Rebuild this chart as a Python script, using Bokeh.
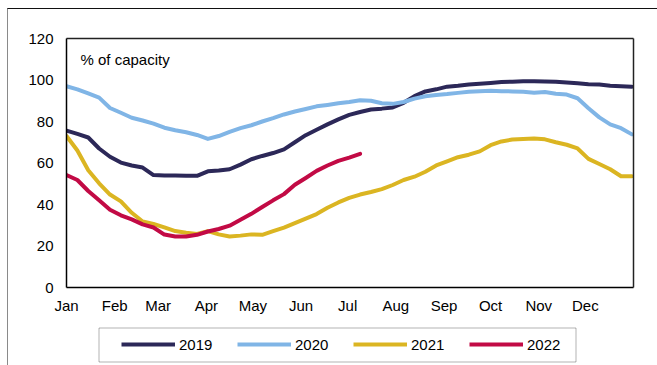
from bokeh.plotting import figure
from bokeh.layouts import column
from bokeh.models import (FixedTicker, Legend, LegendItem, Label, Range1d, LinearAxis,
                          InlineStyleSheet, BoxAnnotation)
from bokeh.embed import file_html
from bokeh.resources import INLINE

# ---- data (weekly points, day-of-year) ----
week_days = [7 * i for i in range(53)]

s2019 = [75.6, 74.0, 72.3, 67.0, 63.0, 60.2, 58.8, 57.8, 54.2, 54.0, 54.0, 53.8, 53.8,
         56.0, 56.4, 57.0, 59.2, 61.8, 63.4, 64.8, 66.6, 70.0, 73.4, 76.0, 78.6, 81.0,
         83.2, 84.6, 85.8, 86.2, 86.8, 89.0, 92.2, 94.5, 95.5, 96.8, 97.2, 97.8, 98.2,
         98.6, 99.0, 99.2, 99.4, 99.4, 99.3, 99.2, 98.8, 98.4, 98.0, 97.8, 97.2, 97.0, 96.8]
s2020 = [97.0, 95.5, 93.5, 91.5, 86.5, 84.2, 81.8, 80.5, 79.0, 77.0, 75.8, 74.8, 73.5,
         71.6, 73.0, 75.0, 76.8, 78.2, 80.0, 81.6, 83.4, 84.8, 86.0, 87.3, 88.0, 88.8,
         89.4, 90.2, 90.0, 88.8, 88.5, 89.4, 91.0, 92.2, 92.8, 93.2, 93.8, 94.3, 94.6,
         94.8, 94.6, 94.5, 94.3, 93.9, 94.2, 93.4, 93.0, 91.2, 86.4, 82.0, 78.6, 76.8, 73.8]
s2021 = [73.0, 66.0, 56.5, 50.2, 44.8, 41.5, 36.0, 31.8, 30.6, 29.0, 27.2, 26.4, 25.8,
         27.2, 25.6, 24.6, 25.0, 25.6, 25.4, 27.2, 28.9, 31.0, 33.2, 35.4, 38.4, 41.0,
         43.2, 44.8, 46.0, 47.4, 49.4, 51.8, 53.4, 55.8, 58.8, 60.8, 62.8, 64.0, 65.6,
         68.6, 70.4, 71.3, 71.6, 71.8, 71.4, 70.0, 68.8, 67.0, 62.0, 59.5, 57.0, 53.6, 53.6]
s2022 = [54.2, 51.8, 46.5, 42.0, 37.5, 34.8, 32.8, 30.4, 28.9, 25.5, 24.6, 24.6, 25.4,
         27.0, 28.2, 29.8, 32.6, 35.5, 38.8, 42.0, 45.0, 49.5, 52.8, 56.2, 58.8, 61.0,
         62.6, 64.4]

month_labels = ["Jan", "Feb", "Mar", "Apr", "May", "Jun", "Jul", "Aug", "Sep", "Oct", "Nov", "Dec"]
month_start_days = [0, 31, 59, 90, 120, 151, 181, 212, 243, 273, 304, 334]
y_ticks = [0, 20, 40, 60, 80, 100, 120]

series_names = ["2019", "2020", "2021", "2022"]
series_values = [s2019, s2020, s2021, s2022]
colors = ["#2c2858", "#80b5e6", "#dbb522", "#c20a45"]

FONT = "Liberation Sans"

# ---------------- main chart ----------------
p = figure(width=657, height=318, output_backend="svg", toolbar_location=None,
           x_range=Range1d(0, 365), y_range=Range1d(0, 120),
           min_border_left=66, min_border_right=24, min_border_top=38, min_border_bottom=31)
p.xgrid.visible = False
p.ygrid.visible = False
p.outline_line_color = None

p.xaxis.ticker = FixedTicker(ticks=month_start_days)
p.xaxis.major_label_overrides = {d: m for d, m in zip(month_start_days, month_labels)}
p.yaxis.ticker = FixedTicker(ticks=y_ticks)
for ax in (p.xaxis[0], p.yaxis[0]):
    ax.major_tick_out = 0
    ax.major_tick_in = 0
    ax.minor_tick_out = 0
    ax.minor_tick_in = 0
    ax.axis_line_color = "black"
    ax.axis_line_width = 1.5
    ax.major_label_text_font = FONT
    ax.major_label_text_font_size = "15px"
    ax.major_label_text_color = "black"
p.yaxis.major_label_standoff = 13
p.xaxis.major_label_standoff = 9

# frame edges on top and right
for side in ("right", "above"):
    edge = LinearAxis(ticker=FixedTicker(ticks=[]), major_tick_out=0, major_tick_in=0,
                      minor_tick_out=0, minor_tick_in=0, major_label_text_font_size="0px",
                      major_label_standoff=0, axis_line_color="#222222", axis_line_width=1.5)
    p.add_layout(edge, side)

for name, vals, col in zip(series_names, series_values, colors):
    p.line(week_days[:len(vals)], vals, line_color=col, line_width=4,
           line_join="round", line_cap="round")

p.add_layout(Label(x=9, y=110, text="% of capacity", text_font=FONT,
                   text_font_size="15px", text_baseline="middle", text_color="black"))

# ---------------- legend strip ----------------
# (same series drawn again, but far outside this strip's ranges, so only the legend shows)
lg = figure(width=657, height=47, output_backend="svg", toolbar_location=None,
            x_range=Range1d(0, 1), y_range=Range1d(0, 1),
            min_border_left=0, min_border_right=0, min_border_top=0, min_border_bottom=0)
lg.axis.visible = False
lg.xgrid.visible = False
lg.ygrid.visible = False
lg.outline_line_color = None

items = []
for name, vals, col in zip(series_names, series_values, colors):
    r = lg.line(week_days[:len(vals)], vals, line_color=col, line_width=4, line_cap="butt")
    items.append(LegendItem(label=name, renderers=[r]))

lg.add_layout(BoxAnnotation(left=98.5, right=575.5, top=9.5, bottom=43.5,
                            left_units="canvas", right_units="canvas",
                            top_units="canvas", bottom_units="canvas",
                            fill_alpha=0, line_color="black", line_width=1))
legend = Legend(items=items, orientation="horizontal", location=(55, 11),
                glyph_width=54, glyph_height=20, label_standoff=4, label_width=34,
                spacing=24, padding=0, margin=0, border_line_alpha=0,
                background_fill_alpha=0, label_text_font=FONT, label_text_color="black",
                label_text_font_size="15px", label_height=20)
lg.add_layout(legend, "center")

page_lines = InlineStyleSheet(css="""
:host { position: relative; }
:host::after {
  content: ''; position: absolute; left: 7px; top: 8px; right: 0; bottom: 0;
  border-top: 1.5px solid #111; border-left: 1.5px solid #8a8a8a;
  pointer-events: none;
}
""")

layout = column(p, lg, spacing=0, stylesheets=[page_lines])

open("out.html", "w").write(file_html(layout, INLINE))
